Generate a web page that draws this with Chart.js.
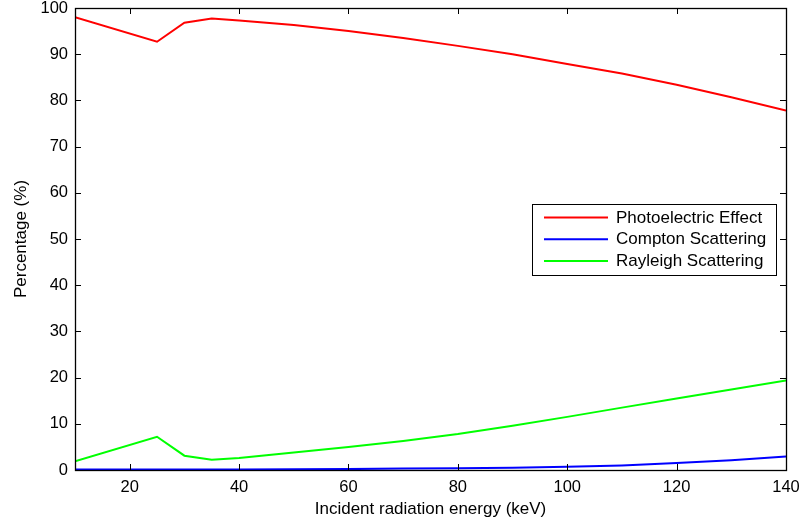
<!DOCTYPE html>
<html>
<head>
<meta charset="utf-8">
<script src="https://cdn.jsdelivr.net/npm/chart.js@4"></script>
<style>
  html, body { margin: 0; padding: 0; background: #fff; }
  #wrap { width: 802px; height: 522px; }
</style>
</head>
<body>
<div id="wrap"><canvas id="interactionChart"></canvas></div>
<script>
// energy (keV) and share of each interaction (%)
const energy = [10, 25, 30, 35, 40, 50, 60, 70, 80, 90, 100, 110, 120, 130, 140];
const photoelectric = [98.0, 92.7, 96.8, 97.7, 97.3, 96.3, 95.0, 93.5, 91.8, 90.0, 87.9, 85.8, 83.4, 80.7, 77.8];
const compton = [0.1, 0.1, 0.1, 0.1, 0.1, 0.15, 0.2, 0.3, 0.4, 0.5, 0.7, 1.0, 1.5, 2.1, 2.9];
const rayleigh = [1.9, 7.2, 3.1, 2.2, 2.6, 3.8, 5.0, 6.3, 7.8, 9.6, 11.5, 13.5, 15.5, 17.4, 19.4];
const xTicks = [20, 40, 60, 80, 100, 120, 140];
const yTicks = [0, 10, 20, 30, 40, 50, 60, 70, 80, 90, 100];

const FONT = "'Liberation Sans', Arial, Helvetica, sans-serif";

const toPoints = (ys) => energy.map((x, i) => ({ x: x, y: ys[i] }));

// edge labels may overhang the plot; keep the plot area fixed by layout padding
const noEdgePadding = (s) => {
  s.paddingLeft = 0; s.paddingRight = 0; s.paddingTop = 0; s.paddingBottom = 0;
};

// box around the plot, inward ticks on all four sides, legend in the box
const framePlugin = {
  id: "frame",
  afterDatasetsDraw(chart) {
    const { ctx, chartArea: a, scales } = chart;
    const tick = 6;
    ctx.save();
    ctx.strokeStyle = "#000";
    ctx.lineWidth = 1;
    ctx.beginPath();
    scales.x.ticks.forEach((t) => {
      const px = Math.round(scales.x.getPixelForValue(t.value)) + 0.5;
      ctx.moveTo(px, a.bottom); ctx.lineTo(px, a.bottom - tick);
      ctx.moveTo(px, a.top); ctx.lineTo(px, a.top + tick);
    });
    scales.y.ticks.forEach((t) => {
      const py = Math.round(scales.y.getPixelForValue(t.value)) + 0.5;
      ctx.moveTo(a.left, py); ctx.lineTo(a.left + tick, py);
      ctx.moveTo(a.right, py); ctx.lineTo(a.right - tick, py);
    });
    ctx.stroke();
    ctx.lineWidth = 1.3;
    ctx.strokeRect(Math.round(a.left) + 0.5, Math.round(a.top) + 0.5,
      Math.round(a.right - a.left), Math.round(a.bottom - a.top));

    // legend
    const box = { x: 532, y: 204, w: 244, h: 71 };
    ctx.fillStyle = "#fff";
    ctx.fillRect(box.x, box.y, box.w, box.h);
    ctx.lineWidth = 1;
    ctx.strokeRect(box.x + 0.5, box.y + 0.5, box.w, box.h);
    ctx.font = "17px " + FONT;
    ctx.textBaseline = "middle";
    chart.data.datasets.forEach((ds, i) => {
      const y = box.y + 13.5 + i * 21.8;
      ctx.strokeStyle = ds.borderColor;
      ctx.lineWidth = 2;
      ctx.beginPath();
      ctx.moveTo(544, y); ctx.lineTo(608, y);
      ctx.stroke();
      ctx.fillStyle = "#000";
      ctx.fillText(ds.label, 616, y + 0.5);
    });
    ctx.restore();
  },
};

const ctx = document.getElementById("interactionChart").getContext("2d");
const interactionChart = new Chart(ctx, {
  type: "line",
  data: {
    datasets: [
      { label: "Photoelectric Effect", data: toPoints(photoelectric), borderColor: "#ff0000" },
      { label: "Compton Scattering", data: toPoints(compton), borderColor: "#0000ff" },
      { label: "Rayleigh Scattering", data: toPoints(rayleigh), borderColor: "#00ff00" },
    ],
  },
  options: {
    responsive: true,
    maintainAspectRatio: false,
    animation: false,
    events: [],
    layout: { padding: { left: 0, top: 8, right: 16, bottom: 0 } },
    elements: {
      line: { borderWidth: 2, tension: 0, fill: false },
      point: { radius: 0 },
    },
    plugins: {
      legend: { display: false },
      tooltip: { enabled: false },
    },
    scales: {
      x: {
        type: "linear",
        min: 10,
        max: 140,
        afterBuildTicks: (s) => { s.ticks = xTicks.map((v) => ({ value: v })); },
        afterFit: (s) => { s.height = 52; noEdgePadding(s); },
        grid: { display: false, drawTicks: false },
        border: { display: false },
        ticks: { color: "#000", padding: 8, maxRotation: 0, font: { family: FONT, size: 16.5 } },
        title: {
          display: true,
          text: "Incident radiation energy (keV)",
          color: "#000",
          padding: { top: 0, bottom: 2 },
          font: { family: FONT, size: 17 },
        },
      },
      y: {
        min: 0,
        max: 100,
        afterBuildTicks: (s) => { s.ticks = yTicks.map((v) => ({ value: v })); },
        afterFit: (s) => { s.width = 75; noEdgePadding(s); },
        grid: { display: false, drawTicks: false },
        border: { display: false },
        ticks: { color: "#000", padding: 7, font: { family: FONT, size: 16.5 } },
        title: {
          display: true,
          text: "Percentage (%)",
          color: "#000",
          padding: { top: 11, bottom: 0 },
          font: { family: FONT, size: 17 },
        },
      },
    },
  },
  plugins: [framePlugin],
});
</script>
</body>
</html>
